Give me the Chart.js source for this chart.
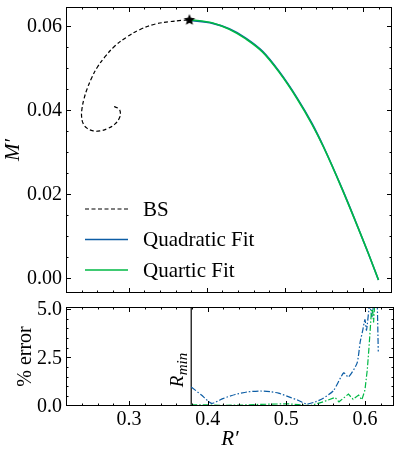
<!DOCTYPE html>
<html>
<head>
<meta charset="utf-8">
<title>BS mass-radius fits</title>
<script src="https://cdn.jsdelivr.net/npm/chart.js"></script>
<style>
  body { margin: 0; background: #fff; }
  #wrap { position: relative; width: 399px; height: 458px; }
  canvas { position: absolute; left: 0; }
</style>
</head>
<body>
<div id="wrap">
  <canvas id="massChart" width="399" height="300" style="top:0"></canvas>
  <canvas id="errChart" width="399" height="158" style="top:300px"></canvas>
</div>

<script>
// boson star branch (spiral -> maximum)
const bsR = [0.2813, 0.2876, 0.2894, 0.2876, 0.2822, 0.2736, 0.2631, 0.2545, 0.2469, 0.2418, 0.2397,
             0.2401, 0.2427, 0.2469, 0.2525, 0.2596, 0.2694, 0.2822, 0.2971, 0.3140, 0.3331, 0.3522,
             0.3671, 0.3777];
const bsM = [0.0408, 0.0402, 0.0391, 0.0379, 0.0366, 0.0356, 0.0350, 0.0350, 0.0356, 0.0367, 0.0383,
             0.0402, 0.0426, 0.0451, 0.0476, 0.0501, 0.0526, 0.0552, 0.0573, 0.0591, 0.0604, 0.0610,
             0.0613, 0.0614];

const starR = [0.3777];
const starM = [0.0614];

// fits on the stable branch
const fitR   = [0.3777, 0.4074, 0.4287, 0.4499, 0.4711, 0.4924, 0.5157, 0.5348, 0.5497, 0.5730, 0.5901, 0.6070, 0.6197];
const quadM  = [0.0613, 0.0606, 0.0593, 0.0571, 0.0540, 0.0492, 0.0428, 0.0367, 0.0311, 0.0213, 0.0136, 0.0057, -0.0005];
const quartM = [0.0615, 0.0607, 0.0592, 0.0569, 0.0538, 0.0490, 0.0426, 0.0365, 0.0310, 0.0212, 0.0135, 0.0057, -0.0005];

// percent error panel
const rMin = 0.379;
const errQuadR = [0.379, 0.392, 0.405, 0.42, 0.435, 0.45, 0.467, 0.48, 0.49, 0.505, 0.515, 0.526, 0.537,
                  0.547, 0.56, 0.573, 0.579, 0.59, 0.594, 0.597, 0.6, 0.602, 0.606, 0.609, 0.612, 0.615, 0.617];
const errQuad  = [0.97, 0.55, 0.12, 0.38, 0.58, 0.71, 0.76, 0.72, 0.65, 0.43, 0.28, 0.08, 0.2,
                  0.38, 0.78, 1.7, 1.48, 2.2, 3.3, 3.85, 4.45, 3.9, 5.2, 4.6, 5.6, 6.0, 2.8];
const errQuartR = [0.379, 0.40, 0.42, 0.44, 0.46, 0.48, 0.50, 0.515, 0.53, 0.547, 0.562, 0.567,
                   0.579, 0.585, 0.592, 0.596, 0.6, 0.603, 0.605, 0.607, 0.609, 0.611, 0.613, 0.616];
const errQuart  = [0.05, 0.04, 0.02, 0.03, 0.06, 0.08, 0.1, 0.06, 0.0, 0.2, 0.43, 0.2,
                   0.6, 0.33, 0.55, 0.3, 0.8, 1.85, 2.9, 4.1, 5.3, 4.3, 5.6, 5.4];

// ticks
const xTicks = [0.3, 0.4, 0.5, 0.6];
const xTickLabels = ['0.3', '0.4', '0.5', '0.6'];
const mTicks = [0, 0.02, 0.04, 0.06];
const mTickLabels = ['0.00', '0.02', '0.04', '0.06'];
const errTicks = [0, 2.5, 5];
const errTickLabels = ['0.0', '2.5', '5.0'];

const BLUE = '#0C5DA5';
const GREEN = '#00B945';
const SERIF = '"Liberation Serif", "DejaVu Serif", serif';

Chart.defaults.font.family = SERIF;
Chart.defaults.color = '#000';

const pts = (xs, ys) => xs.map((x, i) => ({ x: x, y: ys[i] }));

function starImage(r) {
  const c = document.createElement('canvas');
  c.width = c.height = 2 * r + 2;
  const g = c.getContext('2d');
  g.beginPath();
  for (let i = 0; i < 10; i++) {
    const a = -Math.PI / 2 + i * Math.PI / 5;
    const rad = i % 2 ? r * 0.45 : r;
    g.lineTo(r + 1 + rad * Math.cos(a), r + 1 + rad * Math.sin(a));
  }
  g.closePath();
  g.fillStyle = '#000';
  g.fill();
  return c;
}

// box, inward ticks on all four sides, tick labels and axis titles
const frameTicks = {
  id: 'frameTicks',
  afterDatasetsDraw(chart, args, o) {
    const { ctx, chartArea: a } = chart;
    const xs = chart.scales.x, ys = chart.scales.y;
    ctx.save();
    ctx.strokeStyle = '#000';
    ctx.lineWidth = 1;
    ctx.strokeRect(a.left + 0.5, a.top + 0.5, a.right - a.left - 1, a.bottom - a.top - 1);
    ctx.beginPath();
    const tick = (v, len, horiz) => {
      if (horiz) {
        const p = Math.round(xs.getPixelForValue(v)) + 0.5;
        if (p < a.left + 1 || p > a.right - 1) return;
        ctx.moveTo(p, a.bottom); ctx.lineTo(p, a.bottom - len);
        ctx.moveTo(p, a.top); ctx.lineTo(p, a.top + len);
      } else {
        const p = Math.round(ys.getPixelForValue(v)) + 0.5;
        if (p < a.top + 1 || p > a.bottom - 1) return;
        ctx.moveTo(a.left, p); ctx.lineTo(a.left + len, p);
        ctx.moveTo(a.right, p); ctx.lineTo(a.right - len, p);
      }
    };
    const n0 = Math.ceil(xs.min / o.xMinor - 1e-6), n1 = Math.floor(xs.max / o.xMinor + 1e-6);
    for (let i = n0; i <= n1; i++) tick(i * o.xMinor, 2.5, true);
    const m0 = Math.ceil(ys.min / o.yMinor - 1e-6), m1 = Math.floor(ys.max / o.yMinor + 1e-6);
    for (let i = m0; i <= m1; i++) tick(i * o.yMinor, 2.5, false);
    o.xMajor.forEach(v => tick(v, 5, true));
    o.yMajor.forEach(v => tick(v, 5, false));
    ctx.stroke();

    // tick labels
    ctx.fillStyle = '#000';
    ctx.font = '20px ' + SERIF;
    ctx.textAlign = 'right';
    ctx.textBaseline = 'middle';
    o.yMajor.forEach((v, i) => ctx.fillText(o.yLabels[i], a.left - 4, ys.getPixelForValue(v) + 1));
    if (o.xLabels) {
      ctx.textAlign = 'center';
      ctx.textBaseline = 'alphabetic';
      o.xMajor.forEach((v, i) => ctx.fillText(o.xLabels[i], xs.getPixelForValue(v), a.bottom + 19));
    }

    // y title, rotated
    ctx.save();
    ctx.translate(o.yTitleX, (a.top + a.bottom) / 2);
    ctx.rotate(-Math.PI / 2);
    ctx.textAlign = 'center';
    ctx.textBaseline = 'alphabetic';
    ctx.font = (o.yTitleItalic ? 'italic ' : '') + o.yTitleSize + 'px ' + SERIF;
    ctx.fillText(o.yTitle, 0, 0);
    ctx.restore();

    if (o.xTitle) {
      ctx.textAlign = 'center';
      ctx.textBaseline = 'alphabetic';
      ctx.font = 'italic 21px ' + SERIF;
      ctx.fillText(o.xTitle, (a.left + a.right) / 2, a.bottom + 39);
    }
    ctx.restore();
  }
};

// legend drawn inside the plot area
const innerLegend = {
  id: 'innerLegend',
  afterDatasetsDraw(chart, args, o) {
    if (!o.show) return;
    const { ctx, chartArea: a } = chart;
    const items = chart.data.datasets.filter(d => d.legendRow !== undefined)
      .sort((p, q) => p.legendRow - q.legendRow);
    ctx.save();
    items.forEach((d, i) => {
      const y = a.top + o.top + i * o.rowGap;
      ctx.beginPath();
      ctx.strokeStyle = d.borderColor;
      ctx.lineWidth = d.borderWidth;
      ctx.setLineDash(d.borderDash || []);
      ctx.moveTo(a.left + o.left, y);
      ctx.lineTo(a.left + o.left + o.lineLen, y);
      ctx.stroke();
      ctx.setLineDash([]);
      ctx.fillStyle = '#000';
      ctx.font = o.fontSize + 'px ' + SERIF;
      ctx.textBaseline = 'middle';
      ctx.fillText(d.label, a.left + o.left + o.lineLen + o.textGap, y + 1);
    });
    ctx.restore();
  }
};

// R_min label beside the vertical line
const rMinLabel = {
  id: 'rMinLabel',
  afterDatasetsDraw(chart, args, o) {
    if (!o.show) return;
    const { ctx } = chart;
    const px = chart.scales.x.getPixelForValue(rMin);
    const py = chart.scales.y.getPixelForValue(0.95);
    ctx.save();
    ctx.translate(px - 8.5, py);
    ctx.rotate(-Math.PI / 2);
    ctx.fillStyle = '#000';
    ctx.textBaseline = 'alphabetic';
    ctx.font = 'italic 19px ' + SERIF;
    ctx.fillText('R', 0, 0);
    const w = ctx.measureText('R').width;
    ctx.font = 'italic 15px ' + SERIF;
    ctx.fillText('min', w + 0.5, 4);
    ctx.restore();
  }
};

const xMin = 0.2197, xMax = 0.637;

new Chart(document.getElementById('massChart'), {
  type: 'line',
  data: {
    datasets: [
      { label: 'star', data: pts(starR, starM), showLine: false,
        pointStyle: starImage(6), pointRadius: 6, borderColor: '#000', backgroundColor: '#000' },
      { label: 'Quartic Fit', legendRow: 2, data: pts(fitR, quartM), borderColor: GREEN,
        borderWidth: 1.6, pointRadius: 0, cubicInterpolationMode: 'monotone', fill: false },
      { label: 'Quadratic Fit', legendRow: 1, data: pts(fitR, quadM), borderColor: BLUE,
        borderWidth: 1.6, pointRadius: 0, cubicInterpolationMode: 'monotone', fill: false },
      { label: 'BS', legendRow: 0, data: pts(bsR, bsM), borderColor: '#000',
        borderWidth: 1.2, borderDash: [4, 2.5], pointRadius: 0, tension: 0.4, fill: false }
    ]
  },
  options: {
    responsive: false,
    animation: false,
    devicePixelRatio: 1,
    layout: { padding: { top: 4, right: 5, bottom: 3, left: 66 } },
    scales: {
      x: { type: 'linear', display: false, min: xMin, max: xMax },
      y: { type: 'linear', display: false, min: -0.0036, max: 0.0645 }
    },
    plugins: {
      legend: { display: false },
      tooltip: { enabled: false },
      frameTicks: { xMinor: 0.02, yMinor: 0.005, xMajor: xTicks, yMajor: mTicks, yLabels: mTickLabels,
                    yTitle: 'M′', yTitleItalic: true, yTitleSize: 21, yTitleX: 18.5 },
      innerLegend: { show: true, left: 19, top: 202, rowGap: 30.5, lineLen: 43, textGap: 15, fontSize: 21 },
      rMinLabel: { show: false }
    }
  },
  plugins: [frameTicks, innerLegend, rMinLabel]
});

new Chart(document.getElementById('errChart'), {
  type: 'line',
  data: {
    datasets: [
      { label: 'Quartic', data: pts(errQuartR, errQuart), borderColor: GREEN, borderWidth: 1.2,
        borderDash: [6, 2, 1.5, 2], pointRadius: 0, tension: 0, fill: false },
      { label: 'Quadratic', data: pts(errQuadR, errQuad), borderColor: BLUE, borderWidth: 1.2,
        borderDash: [6, 2, 1.5, 2], pointRadius: 0, tension: 0.2, fill: false },
      { label: 'Rmin', data: [{ x: rMin, y: -1 }, { x: rMin, y: 10 }], borderColor: '#000',
        borderWidth: 1.2, pointRadius: 0, fill: false }
    ]
  },
  options: {
    responsive: false,
    animation: false,
    devicePixelRatio: 1,
    layout: { padding: { top: 7, right: 5, bottom: 52, left: 66 } },
    scales: {
      x: { type: 'linear', display: false, min: xMin, max: xMax },
      y: { type: 'linear', display: false, min: -0.015, max: 5.1 }
    },
    plugins: {
      legend: { display: false },
      tooltip: { enabled: false },
      frameTicks: { xMinor: 0.02, yMinor: 0.5, xMajor: xTicks, yMajor: errTicks, yLabels: errTickLabels,
                    xLabels: xTickLabels, xTitle: 'R′',
                    yTitle: '% error', yTitleItalic: false, yTitleSize: 20, yTitleX: 31 },
      innerLegend: { show: false },
      rMinLabel: { show: true }
    }
  },
  plugins: [frameTicks, innerLegend, rMinLabel]
});
</script>
</body>
</html>
